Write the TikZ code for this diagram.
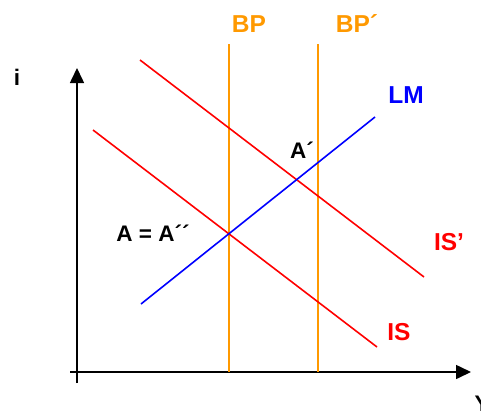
\documentclass[tikz,border=0pt]{standalone}
\usepackage{fontspec}
\setmainfont{Liberation Sans}
\usetikzlibrary{arrows.meta}
\definecolor{bporange}{RGB}{255,153,0}
\definecolor{isred}{RGB}{255,0,0}
\definecolor{lmblue}{RGB}{0,0,255}
\begin{document}
\begin{tikzpicture}[x=1pt,y=-1pt,
  lbl/.style={font=\bfseries\fontsize{24.5}{26}\selectfont, inner sep=0pt},
  plbl/.style={font=\bfseries\fontsize{22.5}{24}\selectfont, inner sep=0pt},
  axis/.style={black, line width=1.6pt, -{Triangle[length=15pt,width=14pt]}},
  curve/.style={line width=1.6pt}]
\useasboundingbox (0,0) rectangle (481,410);
% axes
\coordinate (yb) at (77,383);
\coordinate (yt) at (77,68);
\coordinate (xl) at (70,372);
\coordinate (xr) at (471,372);
\draw[axis] (yb) -- (yt);
\draw[axis] (xl) -- (xr);
\node[plbl] (i) at (17,77) {i};
\node[plbl] (Y) at (482,404) {Y};
% BP lines
\coordinate (bp1t) at (229,44);
\coordinate (bp1b) at (229,372);
\coordinate (bp2t) at (318,44);
\coordinate (bp2b) at (318,372);
\draw[curve, bporange] (bp1t) -- (bp1b);
\draw[curve, bporange] (bp2t) -- (bp2b);
\node[lbl, text=bporange] (BP) at (249,24) {BP};
\node[lbl, text=bporange] (BP2) at (357,24) {BP´};
% IS curves
\coordinate (is1a) at (93,130);
\coordinate (is1b) at (377,347);
\coordinate (is2a) at (140,60);
\coordinate (is2b) at (424,277);
\draw[curve, isred] (is1a) -- (is1b);
\draw[curve, isred] (is2a) -- (is2b);
\node[lbl, text=isred] (IS) at (399,332) {IS};
\node[lbl, text=isred] (IS2) at (449,242) {IS’};
% LM
\coordinate (lma) at (141,304);
\coordinate (lmb) at (375,117);
\draw[curve, lmblue] (lma) -- (lmb);
\node[lbl, text=lmblue] (LM) at (406,95) {LM};
% points
\node[plbl] (A1) at (302,150) {A´};
\node[plbl] (A) at (153,233) {A = A´´};
\end{tikzpicture}
\end{document}
